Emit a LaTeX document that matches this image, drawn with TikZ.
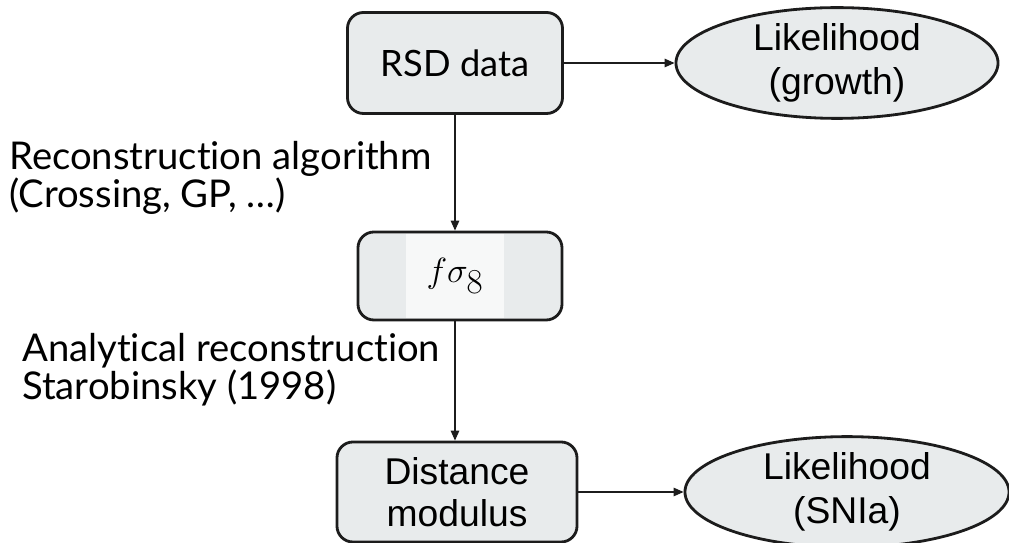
\documentclass[tikz,border=0pt]{standalone}
\usepackage{fontspec}
\setmainfont{Lato}[Ligatures=NoCommon]
\newfontfamily\arialfont{Liberation Sans}
\usetikzlibrary{shapes.geometric, arrows.meta}
\definecolor{BoxGray}{RGB}{232, 235, 236}
\definecolor{PatchWhite}{RGB}{247, 248, 248}
\definecolor{EdgeBlack}{RGB}{28, 28, 28}
\tikzset{
  databox/.style={draw=EdgeBlack, line width=2pt, rounded corners=0.4cm, fill=BoxGray},
  likebox/.style={ellipse, draw=EdgeBlack, line width=2pt, fill=BoxGray, inner sep=0pt, align=center, font=\arialfont\fontsize{26.5}{31}\selectfont},
  flow/.style={-{Triangle[length=7pt, width=6pt]}, line width=0.8pt, EdgeBlack},
  steplabel/.style={anchor=west, align=left, inner sep=0pt, font=\fontsize{27.2}{25.5}\selectfont}
}

\begin{document}
\begin{tikzpicture}[x=0.025cm, y=-0.025cm]
    \useasboundingbox (0,0) rectangle (1009,543);

    % Datos RSD y verosimilitud
    \node[databox, minimum width=5.375cm, minimum height=2.525cm, font=\fontsize{25.8}{28}\selectfont] (rsd) at (455,63) {RSD data};
    \node[likebox, minimum width=8.05cm, minimum height=2.7cm] (likegrowth) at (837,63) {Likelihood\\(growth)};

    % f sigma 8
    \node[databox, minimum width=5.1cm, minimum height=2.2cm] (fsig) at (460,276) {};
    \node[fill=PatchWhite, minimum width=2.45cm, minimum height=2.1cm, inner sep=0pt, font=\fontsize{36}{40}\selectfont] (fsigtext) at (455,276) {$f\sigma_8$};

    % Modulo de distancia
    \node[databox, minimum width=6cm, minimum height=2.5cm, align=center, font=\arialfont\fontsize{26.5}{30}\selectfont] (dist) at (457,492) {Distance\\modulus};
    \node[likebox, minimum width=8.1cm, minimum height=2.75cm] (likesn) at (847,492) {Likelihood\\(SNIa)};

    % Flechas
    \draw[flow] (rsd) -- (likegrowth);
    \draw[flow] (rsd.south) -- (rsd.south |- fsig.north);
    \draw[flow] (rsd.south |- fsig.south) -- (rsd.south |- dist.north);
    \draw[flow] (dist) -- (likesn);

    % Etiquetas
    \node[steplabel] (recolabel) at (9,178) {Reconstruction algorithm\\(Crossing, GP, …)};
    \node[steplabel] (analabel) at (22,370) {Analytical reconstruction\\Starobinsky (1998)};
\end{tikzpicture}
\end{document}
